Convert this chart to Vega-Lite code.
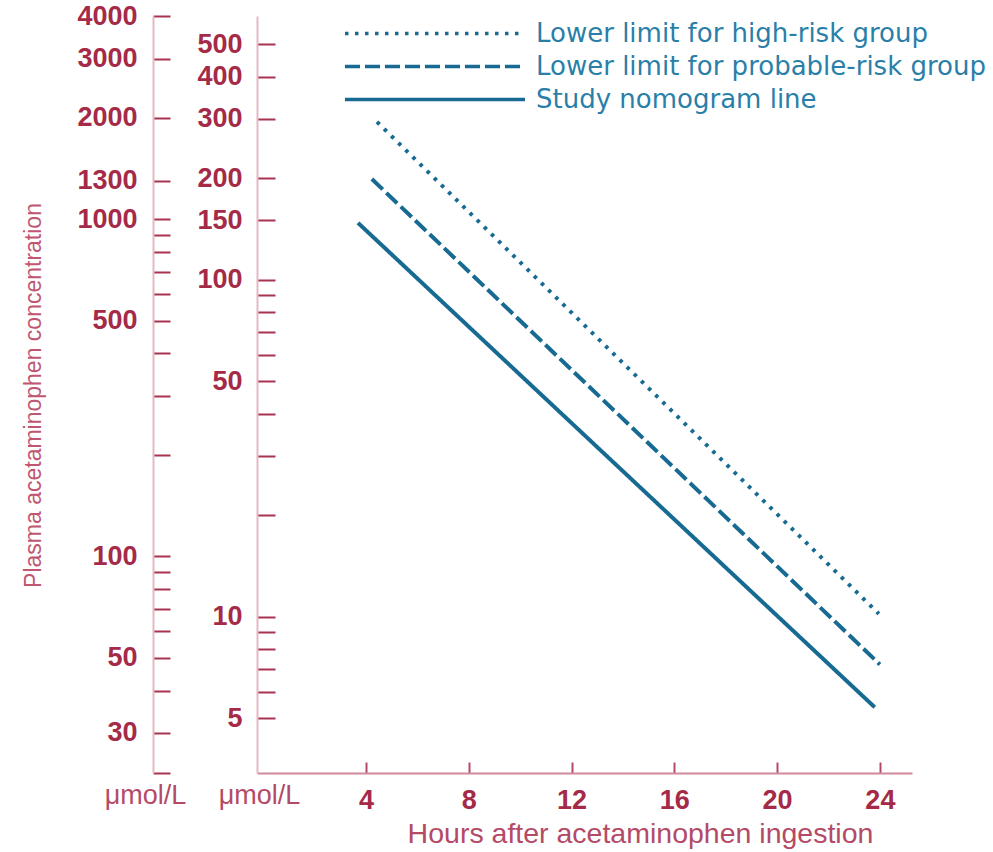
{
  "$schema": "https://vega.github.io/schema/vega-lite/v6.json",
  "width": 655,
  "height": 757,
  "autosize": "none",
  "padding": {"left": 257, "top": 16, "right": 81, "bottom": 79},
  "background": "white",
  "data": {
    "values": [
      {"series": "Lower limit for high-risk group", "hours": 4.43, "conc": 294},
      {"series": "Lower limit for high-risk group", "hours": 23.96, "conc": 10.2},
      {"series": "Lower limit for probable-risk group", "hours": 4.23, "conc": 199},
      {"series": "Lower limit for probable-risk group", "hours": 24.0, "conc": 7.22},
      {"series": "Study nomogram line", "hours": 3.69, "conc": 147.5},
      {"series": "Study nomogram line", "hours": 23.8, "conc": 5.39}
    ]
  },
  "config": {
    "view": {"stroke": null},
    "axis": {"grid": false}
  },
  "layer": [
    {
      "mark": {"type": "line", "color": "#176a91", "strokeWidth": 4},
      "encoding": {
        "x": {
          "field": "hours",
          "type": "quantitative",
          "scale": {"domain": [-0.24, 25.25], "nice": false, "zero": false},
          "axis": {
            "values": [4, 8, 12, 16, 20, 24],
            "title": "Hours after acetaminophen ingestion",
            "titleFont": "Liberation Sans",
            "titleFontSize": 28.5,
            "titleFontWeight": "normal",
            "titleColor": "#b54a66",
            "titleX": 383,
            "titleY": 60,
            "titleAlign": "center",
            "titleBaseline": "middle",
            "labelFont": "Liberation Sans",
            "labelFontSize": 27,
            "labelFontWeight": "bold",
            "labelColor": "#a52a48",
            "labelPadding": 25,
            "labelFlush": false,
            "labelOverlap": false,
            "tickSize": -11,
            "tickWidth": 2,
            "tickColor": "#b04a62",
            "domainColor": "#d08a9a",
            "domainWidth": 2
          }
        },
        "y": {
          "field": "conc",
          "type": "quantitative",
          "scale": {"type": "log", "domain": [3.44, 606], "nice": false},
          "axis": {
            "orient": "left",
            "offset": 0,
            "values": [5, 6, 7, 8, 9, 10, 20, 30, 40, 50, 60, 70, 80, 90, 100, 150, 200, 300, 400, 500],
            "labelExpr": "indexof([5, 10, 50, 100, 150, 200, 300, 400, 500], datum.value) >= 0 ? format(datum.value, 'd') : ''",
            "labelFont": "Liberation Sans",
            "labelFontSize": 27,
            "labelFontWeight": "bold",
            "labelColor": "#a52a48",
            "labelPadding": 33,
            "labelFlush": false,
            "labelOverlap": false,
            "tickSize": -18,
            "tickWidth": 2,
            "tickColor": "#a8334f",
            "domainColor": "#e5b8c3",
            "domainWidth": 2,
            "title": "μmol/L",
            "titleAngle": 0,
            "titleX": 2,
            "titleY": 779,
            "titleAlign": "center",
            "titleBaseline": "middle",
            "titleFont": "Liberation Sans",
            "titleFontSize": 27,
            "titleFontWeight": "normal",
            "titleColor": "#b54a66"
          }
        },
        "strokeDash": {
          "field": "series",
          "type": "nominal",
          "scale": {
            "domain": ["Lower limit for high-risk group", "Lower limit for probable-risk group", "Study nomogram line"],
            "range": [[3.5, 6.5], [15, 5], [1, 0]]
          },
          "legend": {
            "orient": "none",
            "legendX": 86,
            "legendY": 1,
            "title": null,
            "padding": 0,
            "symbolType": "stroke",
            "symbolSize": 32400,
            "symbolStrokeWidth": 3.5,
            "symbolStrokeColor": "#176a91",
            "clipHeight": 33,
            "rowPadding": 0,
            "labelFont": "DejaVu Sans",
            "labelFontSize": 26,
            "labelColor": "#2a7fa8",
            "labelOffset": 9,
            "labelLimit": 0
          }
        }
      }
    },
    {
      "mark": {"type": "line", "opacity": 0},
      "encoding": {
        "y": {
          "field": "conc",
          "type": "quantitative",
          "scale": {"type": "log", "domain": [3.44, 606], "nice": false},
          "axis": {
            "orient": "left",
            "offset": 104,
            "values": [3.44, 4.5317, 6.0423, 7.5529, 9.0634, 10.574, 12.0846, 13.5952, 15.1057, 30.2115, 45.3172, 60.423, 75.5287, 90.6344, 105.7402, 120.8459, 135.9517, 151.0574, 196.3746, 302.1148, 453.1722, 604.2296],
            "labelExpr": "indexof([4000, 3000, 2000, 1300, 1000, 500, 100, 50, 30], round(datum.value * 6.62)) >= 0 ? format(round(datum.value * 6.62), 'd') : ''",
            "labelFont": "Liberation Sans",
            "labelFontSize": 27,
            "labelFontWeight": "bold",
            "labelColor": "#a52a48",
            "labelPadding": 33,
            "labelFlush": false,
            "labelOverlap": false,
            "tickSize": -17,
            "tickWidth": 2,
            "tickColor": "#a8334f",
            "domainColor": "#e5b8c3",
            "domainWidth": 2,
            "title": "μmol/L",
            "titleAngle": 0,
            "titleX": -8,
            "titleY": 779,
            "titleAlign": "center",
            "titleBaseline": "middle",
            "titleFont": "Liberation Sans",
            "titleFontSize": 27,
            "titleFontWeight": "normal",
            "titleColor": "#b54a66"
          }
        }
      }
    },
    {
      "mark": {"type": "line", "opacity": 0},
      "encoding": {
        "y": {
          "field": "conc",
          "type": "quantitative",
          "scale": {"type": "log", "domain": [3.44, 606], "nice": false},
          "axis": {
            "orient": "left",
            "offset": 0,
            "domain": false,
            "ticks": false,
            "labels": false,
            "title": "Plasma acetaminophen concentration",
            "titleAngle": -90,
            "titleX": -224,
            "titleY": 379,
            "titleAlign": "center",
            "titleBaseline": "middle",
            "titleFont": "Liberation Sans",
            "titleFontSize": 23,
            "titleFontWeight": "normal",
            "titleColor": "#c0566f"
          }
        }
      }
    }
  ],
  "resolve": {"axis": {"y": "independent"}}
}
